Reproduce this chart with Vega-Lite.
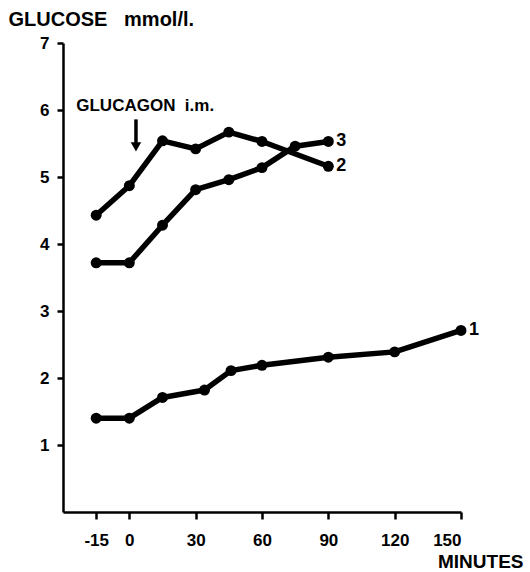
{
  "$schema": "https://vega.github.io/schema/vega-lite/v6.json",
  "autosize": "none",
  "width": 398,
  "height": 469,
  "padding": {"left": 63, "top": 43, "right": 69, "bottom": 60},
  "background": "white",
  "config": {
    "view": {"stroke": null},
    "font": "Liberation Sans",
    "axis": {
      "domainColor": "black", "domainWidth": 2.5, "tickColor": "black", "tickWidth": 2.5,
      "labelColor": "black", "labelFont": "Liberation Sans", "labelFontWeight": "bold", "labelFontSize": 17,
      "titleColor": "black", "titleFont": "Liberation Sans", "titleFontWeight": "bold", "titleFontSize": 17,
      "grid": false
    }
  },
  "datasets": {
    "glucose": [
      {"series": "1", "t": -15, "v": 1.40},
      {"series": "1", "t": 0, "v": 1.40},
      {"series": "1", "t": 15, "v": 1.71},
      {"series": "1", "t": 34, "v": 1.82},
      {"series": "1", "t": 46, "v": 2.11},
      {"series": "1", "t": 60, "v": 2.19},
      {"series": "1", "t": 90, "v": 2.31},
      {"series": "1", "t": 120, "v": 2.39},
      {"series": "1", "t": 150, "v": 2.71},
      {"series": "2", "t": -15, "v": 4.43},
      {"series": "2", "t": 0, "v": 4.87},
      {"series": "2", "t": 15, "v": 5.54},
      {"series": "2", "t": 30, "v": 5.42},
      {"series": "2", "t": 45, "v": 5.67},
      {"series": "2", "t": 60, "v": 5.53},
      {"series": "2", "t": 90, "v": 5.16},
      {"series": "3", "t": -15, "v": 3.72},
      {"series": "3", "t": 0, "v": 3.72},
      {"series": "3", "t": 15, "v": 4.28},
      {"series": "3", "t": 30, "v": 4.81},
      {"series": "3", "t": 45, "v": 4.96},
      {"series": "3", "t": 60, "v": 5.14},
      {"series": "3", "t": 75, "v": 5.46},
      {"series": "3", "t": 90, "v": 5.53}
    ],
    "labels": [
      {"label": "1", "t": 150, "v": 2.71},
      {"label": "2", "t": 90, "v": 5.16},
      {"label": "3", "t": 90, "v": 5.53}
    ],
    "notes": [
      {"label": "GLUCAGON\u00a0\u00a0i.m.", "t": -24, "v": 5.99}
    ],
    "arrow": [
      {"t": 3, "v": 5.86, "v2": 5.45}
    ]
  },
  "layer": [
    {
      "data": {"name": "glucose"},
      "mark": {"type": "line", "color": "black", "strokeWidth": 5.5, "strokeJoin": "round"},
      "encoding": {
        "x": {"field": "t", "type": "quantitative",
          "scale": {"domain": [-30, 150], "nice": false, "zero": false},
          "axis": {"values": [-15, 0, 30, 60, 90, 120, 150], "tickSize": 7, "labelPadding": 13,
            "labelExpr": "'' + datum.value",
            "title": "MINUTES", "titleAnchor": "end", "titleAlign": "right", "titleBaseline": "alphabetic",
            "titleX": 460, "titleY": 55, "titleFontSize": 19}},
        "y": {"field": "v", "type": "quantitative",
          "scale": {"domain": [0, 7], "nice": false},
          "axis": {"values": [1, 2, 3, 4, 5, 6, 7], "tickSize": 6, "labelPadding": 8, "format": "d",
            "title": "GLUCOSE\u00a0\u00a0\u00a0mmol/l.", "titleAngle": 0, "titleAlign": "left", "titleBaseline": "alphabetic",
            "titleX": -55, "titleY": -18, "titleFontSize": 20}},
        "detail": {"field": "series"}
      }
    },
    {
      "data": {"name": "glucose"},
      "mark": {"type": "point", "filled": true, "color": "black", "opacity": 1, "size": 120},
      "encoding": {
        "x": {"field": "t", "type": "quantitative"},
        "y": {"field": "v", "type": "quantitative"}
      }
    },
    {
      "data": {"name": "labels"},
      "mark": {"type": "text", "align": "left", "baseline": "middle", "dx": 8, "fontSize": 18, "fontWeight": "bold", "color": "black"},
      "encoding": {
        "x": {"field": "t", "type": "quantitative"},
        "y": {"field": "v", "type": "quantitative"},
        "text": {"field": "label"}
      }
    },
    {
      "data": {"name": "notes"},
      "mark": {"type": "text", "align": "left", "baseline": "alphabetic", "fontSize": 17, "fontWeight": "bold", "color": "black"},
      "encoding": {
        "x": {"field": "t", "type": "quantitative"},
        "y": {"field": "v", "type": "quantitative"},
        "text": {"field": "label"}
      }
    },
    {
      "data": {"name": "arrow"},
      "mark": {"type": "rule", "color": "black", "strokeWidth": 3.5},
      "encoding": {
        "x": {"field": "t", "type": "quantitative"},
        "y": {"field": "v", "type": "quantitative"},
        "y2": {"field": "v2"}
      }
    },
    {
      "data": {"name": "arrow"},
      "mark": {"type": "point", "shape": "triangle-down", "filled": true, "color": "black", "opacity": 1, "size": 110},
      "encoding": {
        "x": {"field": "t", "type": "quantitative"},
        "y": {"field": "v2", "type": "quantitative"}
      }
    }
  ]
}
